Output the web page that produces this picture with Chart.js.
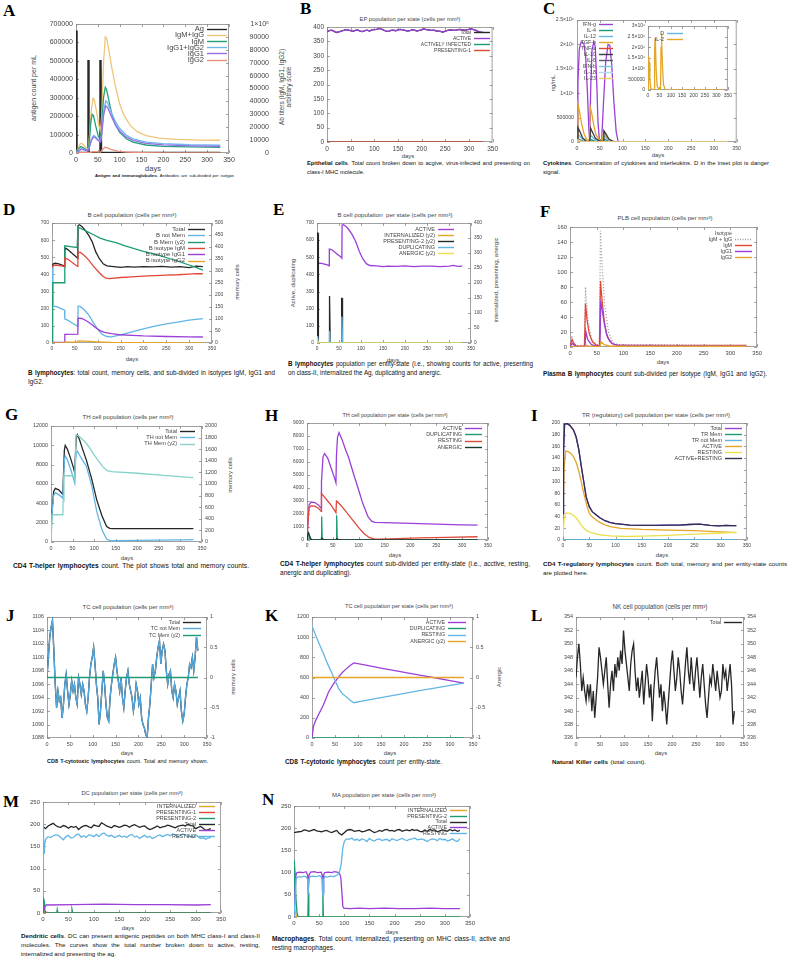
<!DOCTYPE html>
<html>
<head>
<meta charset="utf-8">
<script src="https://cdn.jsdelivr.net/npm/chart.js@4.4.1/dist/chart.umd.min.js"></script>
<style>
  body { margin:0; width:794px; height:960px; position:relative; overflow:hidden; background:#fff;
         font-family:"Liberation Sans", Arial, sans-serif; color:#222; }
  canvas { position:absolute; }
  .lt { position:absolute; font-family:"Liberation Serif", "Times New Roman", serif; font-weight:bold; font-size:17px; line-height:17px; color:#000; }
  .tt { position:absolute; font-size:5.2px; color:#444; white-space:nowrap; transform:translate(-50%,-50%); }
  .ax { position:absolute; font-size:6px; color:#444; white-space:nowrap; transform:translate(-50%,-50%); }
  .ax.r { transform:translate(-50%,-50%) rotate(-90deg); }
  .cp { position:absolute; font-size:5.3px; line-height:9px; color:#111; }
  .cp span { display:block; white-space:nowrap; }
  .cp .j { text-align:justify; text-align-last:justify; }
</style>
</head>
<body>

<!-- panel letters -->
<div class="lt" style="left:3px;top:2px">A</div>
<div class="lt" style="left:300px;top:0px">B</div>
<div class="lt" style="left:543px;top:0px">C</div>
<div class="lt" style="left:3px;top:201px">D</div>
<div class="lt" style="left:273px;top:201px">E</div>
<div class="lt" style="left:540px;top:203px">F</div>
<div class="lt" style="left:5px;top:406px">G</div>
<div class="lt" style="left:265px;top:407px">H</div>
<div class="lt" style="left:531px;top:407px">I</div>
<div class="lt" style="left:6px;top:607px">J</div>
<div class="lt" style="left:265px;top:607px">K</div>
<div class="lt" style="left:531px;top:607px">L</div>
<div class="lt" style="left:3px;top:793px">M</div>
<div class="lt" style="left:262px;top:791px">N</div>

<!-- chart titles (data-w: width they take in the figure) -->
<div class="tt" data-w="101" style="left:410px;top:19px">EP population per state (cells per mm³)</div>
<div class="tt" data-w="89" style="left:132px;top:214px">B cell population (cells per mm³)</div>
<div class="tt" data-w="115" style="left:395px;top:214px">B cell population&nbsp; per state (cells per mm³)</div>
<div class="tt" data-w="95" style="left:665px;top:217px">PLB cell population (cells per mm³)</div>
<div class="tt" data-w="91" style="left:128px;top:416px">TH cell population (cells per mm³)</div>
<div class="tt" data-w="105" style="left:395px;top:415px">TH cell population per state (cells per mm³)</div>
<div class="tt" data-w="148" style="left:656px;top:415px">TR (regulatory) cell population per state (cells per mm³)</div>
<div class="tt" data-w="91" style="left:128px;top:606px">TC cell population (cells per mm³)</div>
<div class="tt" data-w="108" style="left:399px;top:606px">TC cell population per state (cells per mm³)</div>
<div class="tt" data-w="95" style="left:660px;top:606px">NK cell population (cells per mm³)</div>
<div class="tt" data-w="101" style="left:132px;top:793px">DC population per state (cells per mm³)</div>
<div class="tt" data-w="104" style="left:384px;top:795px">MA population per state (cells per mm³)</div>

<!-- axis titles -->
<div class="ax" style="left:153px;top:168px;font-size:7.5px">days</div>
<div class="ax" style="left:408px;top:156px">days</div>
<div class="ax" style="left:658px;top:155px">days</div>
<div class="ax" style="left:132px;top:359px">days</div>
<div class="ax" style="left:393px;top:360px">days</div>
<div class="ax" style="left:663px;top:362px">days</div>
<div class="ax" style="left:127px;top:558px">days</div>
<div class="ax" style="left:395px;top:555px">days</div>
<div class="ax" style="left:662px;top:555px">days</div>
<div class="ax" style="left:127px;top:753px">days</div>
<div class="ax" style="left:390px;top:753px">days</div>
<div class="ax" style="left:661px;top:753px">days</div>
<div class="ax" style="left:128px;top:928px">days</div>
<div class="ax" style="left:392px;top:932px">days</div>

<div class="ax r" style="left:33px;top:88px;font-size:7px">antigen count per mL</div>
<div class="ax r" style="left:281px;top:87px;font-size:6.5px">Ab titers (IgM, IgG1, IgG2)</div>
<div class="ax r" style="left:288px;top:87px;font-size:6.5px">arbitrary scale</div>
<div class="ax r" style="left:553px;top:83px">ng/mL</div>
<div class="ax r" style="left:237px;top:282px">memory cells</div>
<div class="ax r" style="left:293px;top:283px">Active, duplicating</div>
<div class="ax r" style="left:496px;top:280px">internalized, presenting, anergic</div>
<div class="ax r" style="left:230px;top:475px">memory cells</div>
<div class="ax r" style="left:233px;top:677px">memory cells</div>
<div class="ax r" style="left:499px;top:677px">Anergic</div>

<!-- captions -->
<div class="cp" style="left:95px;top:171px;width:140px"><span class="j"><b>Antigen and immunoglobulins</b>. Antibodies are sub-divided per isotype.</span></div>
<div class="cp" style="left:307px;top:159px;width:223px"><span class="j"><b>Epithelial cells</b>. Total count broken down to acgive, virus-infected and presenting on</span><span>class-I MHC molecule.</span></div>
<div class="cp" style="left:543px;top:159px;width:226px"><span class="j"><b>Cytokines</b>. Concentration of cytokines and interleukins. D in the inset plot is danger</span><span>signal.</span></div>
<div class="cp" style="left:28px;top:368px;width:247px"><span class="j"><b>B lymphocytes</b>: total count, memory cells, and sub-divided in isotypes IgM, IgG1 and</span><span>IgG2.</span></div>
<div class="cp" style="left:288px;top:359px;width:245px"><span class="j"><b>B lymphocytes</b> population per entity-state (i.e., showing counts for active, presenting</span><span>on class-II, internalized the Ag, duplicating and anergic.</span></div>
<div class="cp" style="left:543px;top:369px;width:224px"><span class="j"><b>Plasma B lymphocytes</b> count sub-divided per isotype (IgM, IgG1 and IgG2).</span></div>
<div class="cp" style="left:13px;top:561px;width:236px"><span class="j"><b>CD4 T-helper lymphocytes</b> count. The plot shows total and memory counts.</span></div>
<div class="cp" style="left:280px;top:559px;width:250px"><span class="j"><b>CD4 T-helper lymphocytes</b> count sub-divided per entity-state (i.e., acctive, resting,</span><span>anergic and duplicating).</span></div>
<div class="cp" style="left:543px;top:559px;width:244px"><span class="j"><b>CD4 T-regulatory lymphocytes</b> count. Both total, memory and per entity-state counts</span><span>are plotted here.</span></div>
<div class="cp" style="left:47px;top:757px;width:161px"><span class="j"><b>CD8 T-cytotoxic lymphocytes</b> count. Total and memory shown.</span></div>
<div class="cp" style="left:285px;top:757px;width:157px"><span class="j"><b>CD8 T-cytotoxic lymphocytes</b> count per entity-state.</span></div>
<div class="cp" style="left:552px;top:757px;width:94px"><span class="j"><b>Natural Killer cells</b> (total count).</span></div>
<div class="cp" style="left:21px;top:931px;width:239px"><span class="j"><b>Dendritic cells</b>. DC can present antigenic peptides on both MHC class-I and class-II</span><span class="j">molecules. The curves show the total number broken down to active, resting,</span><span>internalized and presenting the ag.</span></div>
<div class="cp" style="left:272px;top:934px;width:238px"><span class="j"><b>Macrophages</b>. Total count, internalized, presenting on MHC class-II, active and</span><span>resting macrophages.</span></div>

<script>
// ---- data: [day, value] pairs ----
// A: antigen (left axis) and antibody titres (right axis)
const aAg = [[0,665000],[1.2,0],[27.5,0],[28,505000],[29.2,0],[55.5,0],[56,505000],[57.2,0],[330,0]];
const aIgMIgG = [[0,0],[4,3000],[9,7000],[13,7600],[18,6000],[24,3600],[28,3000],[31,14000],[35,33000],[39,42500],[42,41000],[47,32000],[52,22000],[56,17000],[59,30000],[63,70000],[67,90000],[70,89000],[75,80000],[82,66000],[90,52000],[100,38000],[110,29000],[125,21000],[140,16500],[160,13500],[190,11500],[230,10500],[280,10000],[330,9900]];
const aIgM = [[0,0],[5,3000],[11,5000],[16,4200],[24,2500],[28,2200],[31,11000],[34,24000],[37,30000],[40,29000],[45,21000],[51,13000],[56,10000],[59,22000],[63,43000],[67,51000],[70,49000],[75,41000],[82,30000],[90,22000],[100,16000],[115,11000],[130,8500],[160,6200],[200,5200],[260,4700],[330,4400]];
const aIgG12 = [[0,0],[6,1500],[12,3300],[18,2800],[27,1800],[30,4000],[35,10500],[40,13500],[44,13000],[50,10500],[56,9000],[59,16000],[63,32000],[68,40500],[72,39000],[80,32000],[90,24500],[100,19000],[115,14000],[130,11000],[160,8500],[200,7200],[260,6400],[330,6000]];
const aIgG1 = [[0,0],[6,1300],[12,3000],[18,2500],[27,1600],[30,3600],[35,9500],[40,12500],[44,12000],[50,9800],[56,8400],[59,14500],[63,29000],[68,36500],[72,35500],[80,29000],[90,22000],[100,17000],[115,12500],[130,9800],[160,7500],[200,6300],[260,5600],[330,5200]];
const aIgG2 = [[0,0],[12,200],[30,300],[40,1000],[56,700],[60,2500],[66,4400],[72,4000],[80,2800],[95,1500],[115,700],[150,300],[200,100],[330,0]];
const aY2Labels = ['0','10000','20000','30000','40000','50000','60000','70000','80000','90000','1×10⁵'];

// B: epithelial cells, one value every 5 days
const bActive = [384,387,389,385,381,383,386,388,391,389,387,385,388,390,386,384,387,389,386,390,
  391,392,395,393,389,386,385,388,389,387,390,392,390,388,386,387,391,389,386,388,
  390,393,391,390,388,389,387,386,385,382,386,388,390,389,388,390,392,391,389,390,
  392,393,391,388,384,382,381];
const bZero = [[0,0],[330,0]];

// C: cytokines
const cIFNg = [[0,0],[2,1200000],[5,1900000],[9,2050000],[15,2020000],[19,1750000],[23,1000000],[26,250000],[28,50000],[30,1100000],[33,1900000],[37,2050000],[40,1950000],[43,1300000],[46,400000],[49,60000],[54,20000],[58,800000],[63,1650000],[68,2000000],[72,1980000],[76,1600000],[81,800000],[86,200000],[90,20000],[95,0],[330,0]];
const cIL4 = [[0,0],[3,60000],[10,30000],[20,5000],[28,0],[31,50000],[40,15000],[50,0],[59,60000],[68,20000],[80,0],[330,0]];
const cIL12 = [[0,0],[2,160000],[6,120000],[12,50000],[20,10000],[28,0],[30,140000],[35,90000],[42,30000],[50,0],[58,130000],[63,90000],[70,30000],[80,0],[330,0]];
const cTGFb = [[0,0],[2,780000],[5,650000],[10,380000],[15,180000],[20,70000],[27,20000],[29,720000],[32,600000],[37,330000],[42,140000],[50,40000],[56,30000],[58,200000],[62,150000],[68,70000],[75,20000],[85,0],[330,0]];
const cIL10 = [[0,0],[2,300000],[6,220000],[12,90000],[20,20000],[28,10000],[30,280000],[34,200000],[40,80000],[50,15000],[57,10000],[59,230000],[63,170000],[70,60000],[80,10000],[90,0],[330,0]];
const cLow = [[0,0],[2,40000],[8,10000],[20,0],[330,0]];
const cD = [[0,0],[330,0]];
const cIL2 = [[0,0],[1,900000],[3,1600000],[5,1300000],[8,500000],[12,100000],[20,0],[27,0],[29,1800000],[31,2420000],[33,2000000],[36,900000],[40,200000],[48,0],[55,0],[57,2000000],[59,2660000],[61,2200000],[64,1000000],[68,250000],[76,0],[330,0]];
const cYLabels = ['0','500000','1×10⁶','1.5×10⁶','2×10⁶','2.5×10⁶'];
const cInsetLabels = ['0','500000','1×10⁶','1.5×10⁶','2×10⁶','2.5×10⁶','3×10⁶'];

// D: B cells (memory on right axis)
const dTotal = [[0,450],[3,462],[7,466],[15,462],[25,452],[27.5,447],[28,555],[33,548],[45,520],[55,498],[56.5,495],[57,685],[60,690],[66,678],[72,660],[80,630],[88,590],[96,530],[104,490],[112,462],[120,450],[135,446],[150,441],[165,445],[180,443],[200,445],[220,444],[240,447],[260,443],[280,446],[300,440],[315,448],[330,445]];
const dNotMem = [[0,450],[2,215],[10,212],[20,200],[27.5,192],[28,140],[33,135],[45,115],[55,100],[56.5,98],[57,215],[62,212],[70,195],[80,165],[90,120],[100,80],[110,50],[120,38],[130,36],[150,48],[175,65],[200,82],[225,98],[250,112],[275,122],[300,133],[315,138],[330,142]];
const dMem = [[0,0],[1,5],[2,251],[27.5,251],[28,405],[40,402],[55,398],[56.5,398],[57,482],[62,478],[75,466],[90,452],[105,437],[120,428],[140,418],[160,405],[180,393],[200,382],[220,372],[240,362],[260,350],[280,338],[300,325],[315,315],[330,304]];
const dIgM = [[0,440],[3,452],[8,455],[20,450],[27.5,445],[28,495],[35,488],[45,468],[55,448],[56.5,447],[57,530],[62,528],[70,512],[80,485],[90,450],[100,420],[110,392],[118,378],[125,376],[150,382],[175,386],[200,390],[225,393],[250,396],[275,398],[300,402],[315,405],[330,404]];
const dIgG1 = [[0,0],[3,4],[27.5,5],[28,50],[56.5,52],[57,145],[65,143],[75,130],[85,112],[95,90],[105,72],[115,62],[130,55],[150,48],[175,44],[200,41],[250,38],[300,36],[330,35]];
const dIgG2 = [[0,0],[27.5,1],[28,5],[56.5,5],[57,12],[75,11],[90,8],[110,5],[130,3],[200,2],[330,1]];

// E: B cells per state
const eActive = [[0,0],[1,300],[2,462],[7,466],[15,462],[25,455],[27.5,450],[28,548],[33,545],[45,520],[55,500],[56.5,495],[57,688],[60,690],[66,680],[72,662],[80,632],[88,592],[96,535],[104,492],[112,463],[120,452],[135,450],[150,446],[160,449],[180,447],[200,450],[220,446],[240,449],[260,448],[280,446],[300,449],[310,453],[320,447],[330,448]];
const eIntern = [[0,0],[1,0],[1.5,23],[3,0],[27.5,0],[28.5,11],[30,0],[55.5,0],[56.5,23],[58,0],[330,0]];
const ePres2 = [[0,0],[1,0],[1.5,366],[2.3,366],[3.2,0],[27.5,0],[28,157],[29,157],[30,0],[55.5,0],[56,149],[57,149],[58,0],[330,0]];
const eDup = [[0,0],[1,0],[1.7,40],[3,0],[27.5,0],[28.5,70],[30,0],[55.5,0],[56.5,155],[58,0],[330,0]];
const eAnergic = [[0,0],[1.5,8],[3,0],[330,0]];

// F: plasma B cells
const fTotal = [[0,0],[3,15],[6,5],[12,2],[27,2],[29,80],[33,40],[40,10],[50,3],[55,2],[57,155],[60,110],[65,55],[72,20],[80,6],[90,3],[330,2]];
const fIgM = [[0,0],[2,6],[4,10],[7,5],[12,1],[27,1],[29,58],[32,35],[36,18],[42,7],[50,2],[55,1],[57,88],[60,62],[64,35],[68,18],[74,8],[82,3],[95,2],[330,2]];
const fIgG1 = [[0,0],[4,5],[8,2],[15,0],[28,0],[29.5,21],[33,10],[40,3],[50,1],[56,0],[57.5,62],[61,45],[65,28],[70,13],[78,5],[90,2],[330,1.5]];
const fIgG2 = [[0,0],[28,0],[30,3],[36,1],[56,0],[58,7],[64,3],[75,1],[330,1]];

// G: TH cells
const gTotal = [[0,1400],[3,3500],[6,5200],[10,5550],[18,5400],[26,5000],[27.5,4950],[29,7000],[31,9500],[33,10000],[38,9600],[45,8700],[52,7700],[55,7150],[57,9500],[59,10900],[61,11100],[66,10600],[74,9500],[82,8470],[94,6590],[106,4360],[118,2710],[129,1610],[136,1420],[145,1380],[200,1380],[260,1380],[330,1380]];
const gNotMem = [[0,1300],[3,3300],[6,4800],[10,5100],[18,4900],[26,4600],[27.5,4500],[29,6500],[31,8500],[33,8900],[38,8500],[45,7600],[52,6600],[55,6100],[57,8500],[59,9200],[61,9400],[66,9000],[74,8400],[82,7860],[94,5900],[106,3160],[118,1270],[129,310],[136,150],[150,130],[200,160],[260,200],[330,250]];
const gMem = [[0,0],[2,0],[3,470],[27.5,470],[28,700],[30,1140],[45,1145],[54,1130],[55,1100],[57,1500],[58,1850],[62,1840],[70,1790],[80,1720],[90,1620],[100,1500],[110,1400],[120,1300],[130,1230],[140,1215],[200,1185],[260,1150],[330,1110]];

// H: TH cells per state
const hActive = [[0,0],[2,1500],[4,2700],[8,2920],[15,2880],[22,2700],[27.5,2430],[28,4500],[31,6400],[34,6650],[40,6300],[47,5500],[53,4800],[56,4400],[57,6500],[59,7900],[62,8260],[68,7700],[75,6900],[80,6400],[90,5100],[99,3960],[108,2800],[118,1790],[125,1450],[131,1360],[150,1330],[200,1280],[250,1220],[300,1170],[330,1140]];
const hDup = [[0,0],[1,400],[2,600],[3,550],[5,100],[8,0],[27.5,0],[28,1800],[28.8,1800],[29.5,0],[56.5,0],[57,1900],[57.8,1900],[58.5,0],[330,0]];
const hResting = [[0,1400],[1,800],[2,1500],[4,2500],[8,2620],[15,2600],[22,2450],[27.5,2200],[28,3580],[32,3400],[40,3000],[48,2600],[56,2100],[57,3000],[60,2900],[70,2450],[80,1950],[90,1450],[100,950],[110,500],[120,200],[130,80],[140,60],[175,110],[220,160],[270,200],[330,250]];
const hAnergic = [[0,0],[1,350],[3,550],[5,300],[8,50],[12,0],[27,0],[28.5,150],[32,30],[38,0],[56,0],[57.5,100],[62,20],[70,0],[330,0]];

// I: TR cells
const iActRest = [[0,45],[1,150],[3,198],[8,199],[13,196],[20,188],[25,176],[30,155],[35,125],[40,97],[44,74],[50,57],[56,48],[63,43],[70,38],[80,33],[89,30],[100,28],[110,27],[127,25.5],[150,25],[175,25],[200,25.5],[221,25.5],[240,26.5],[260,27],[280,25],[297,24],[310,25],[320,24.5],[330,24.5]];
const iActive = [[0,40],[2,120],[5,152],[10,151],[15,148],[20,142],[25,133],[30,118],[35,98],[40,78],[45,60],[50,46],[55,40],[62,35],[70,30],[80,26],[90,23],[110,20],[130,19],[150,18],[200,17],[250,16],[300,14],[330,12.5]];
const iResting = [[0,5],[2,35],[5,46],[10,46],[15,45],[20,42],[25,38],[30,32],[35,25],[40,20],[45,16],[50,14],[60,11],[70,9],[90,7],[120,6],[150,6.5],[200,8],[250,10],[300,12],[330,13]];
const iZero = [[0,0],[330,0]];

// J: TC cells, one value every 3 days
const jNotMem = [1097,1100,1103,1104.5,1105.5,1101,1096,1092.5,1095,1093.5,
  1094,1091,1093,1096,1097.5,1095,1093,1094.5,1096.5,1095,
  1096,1094,1093,1097,1096,1094.5,1096,1095,1093,1092,
  1094,1097,1099,1100,1101.5,1099,1096,1094,1090,1092,
  1095,1098,1096,1093,1091,1090.5,1094,1096,1097.5,1099,
  1100,1098,1096.5,1095,1097,1094,1092.5,1095,1097,1098,
  1096,1095,1094,1092,1093.5,1096,1095,1093,1094,1091,
  1090,1089.5,1088.5,1088,1091,1093,1096,1099,1097,1098,
  1100,1101.5,1102.5,1099,1101,1102,1101,1098,1096,1097.5,
  1098,1095,1094,1096,1095,1093,1094,1095,1092,1090.5,
  1091.5,1094,1096,1097,1099,1098.5,1100,1098,1100,1103,1101];
const jMem = [[0,0],[330,0]];

// K: TC cells per state
const kActive = [[0,0],[3,110],[7,165],[14,230],[25,330],[36,456],[47,539],[58,605],[66,650],[75,688],[83,720],[91,744],[120,720],[150,694],[180,669],[210,644],[240,619],[270,595],[300,570],[330,545]];
const kDup = [[0,0],[330,0]];
const kResting = [[0,1110],[8,1020],[16,930],[25,836],[33,745],[42,654],[50,570],[58,490],[66,440],[75,406],[83,375],[91,350],[120,375],[150,400],[180,425],[210,449],[240,474],[270,498],[300,522],[330,545]];
const kAnergic = [[0,0],[330,0]];

// L: NK cells, one value every 3 days
const lTotal = [345,348,350,347,343,345,343,341.5,344,342,
  344,340,343,339,342,345,349.5,348,346,344,
  346,348,344,340.5,344,346,343,347,345,348,
  346,349,347,352,349,347,345,343,347,349,
  350,346,343,345,342,344,346,341,344,347,
  345,342,344,338.5,343,346,348,345,342,344,
  340,343,341,338,341,344,347,349,346,343,
  345,348,346,343,341,344,347,349.5,346,344,
  348,345,343,346,348,345,342,345,347,344,
  341,339,342,345,344,347,345,343,346,344,
  342,343,347,345,346,343,345,347,344,338,340];

// M: dendritic cells
const mIntern = [[0,2],[3,1],[330,0]];
const mPres1 = [[0,0],[2,3],[10,1],[330,1]];
const mPres2 = [[0,0],[1,32],[2,30],[4,5],[6,0],[27,0],[28,8],[29.5,0],[56,0],[57,8],[58.5,0],[330,0]];
const mTotal = [195,190,196,199,202,197,194,193,197,195,191,195,193,195,188,193,196,197,194,192,
  198,196,195,203,200,196,194,192,197,195,193,195,198,197,193,197,199,196,193,195,
  196,191,188,190,193,196,192,194,195,198,196,194,192,195,197,198,196,200,197,196,
  190,193,195,191,186,188,190];
const mActive = [[0,0],[3,12],[6,18],[60,19],[120,20],[180,19],[240,19],[300,18],[330,19]];
const mRestStart = [[0,200],[1,165],[2,135],[3,150],[4,162]];
const mResting = [166,172,170,174,176,175,170,165,172,175,169,170,176,178,171,174,170,176,175,172,
  177,172,178,180,175,173,175,170,172,175,171,173,170,175,177,171,173,168,172,175,
  170,173,168,170,174,176,172,175,177,174,178,176,172,175,178,175,171,173,170,176,
  172,168,170,166,169,170];

// N: macrophages
const nIntern = [[0,0],[0.5,40],[2,15],[5,0],[330,0]];
const nPres2 = [[0,0],[0.5,128],[2,100],[4,40],[6,10],[8,0],[27.5,0],[28.5,55],[29.5,0],[56.5,0],[57.5,55],[58.5,0],[330,0]];
const nTotal = [190,191,192,193,196,195,193,195,197,194,193,192,194,195,192,190,193,195,188,185,
  190,195,197,196,193,194,195,192,193,195,197,193,190,192,195,193,196,197,194,195,
  193,196,197,193,195,196,194,197,195,196,193,192,196,193,197,195,196,192,194,196,
  195,193,197,194,196,193,195];
const nActive = [[0,0],[2,50],[4,95],[6,100],[12,101],[18,100],[24,102],[27,95],[28,55],[29,55],[30,95],[33,101],[40,102],[47,100],[54,101],[56,95],[57,55],[58,55],[59,95],[61,100],[68,101],[75,100],[80,102],[86,101],[90,99],[93,90],[95,60],[97,25],[99,20],[110,19],[130,20],[150,19],[180,20],[210,19],[240,19],[270,20],[300,19],[330,19]];
const nResting = [[0,0],[2,40],[4,85],[6,89],[10,91],[15,90],[20,92],[25,90],[27,85],[28,50],[29,50],[30,85],[32,91],[38,92],[44,91],[50,93],[54,91],[56,85],[57,50],[58,50],[59,85],[61,91],[66,90],[72,92],[78,91],[84,93],[88,97],[91,104],[94,120],[97,155],[100,170],[104,176],[110,175],[115,178],[120,173],[125,175],[130,172],[135,176],[140,174],[145,170],[150,177],[155,173],[160,171],[165,175],[170,176],[175,172],[180,174],[185,175],[190,171],[195,176],[200,174],[205,172],[210,175],[215,177],[220,174],[225,172],[230,175],[235,176],[240,178],[245,174],[250,175],[255,176],[260,173],[265,170],[270,174],[275,176],[280,175],[285,172],[290,177],[295,174],[300,175],[305,171],[310,173],[315,176],[320,172],[325,170],[330,176]];

// ---- colours ----
const PURPLE = '#9b3fd8', GREEN = '#1c9c76', LBLUE = '#62b5e5', ORANGE = '#e5a526', YELLOW = '#ebdf4e',
      RED = '#e0483a', BLACK = '#262626', NAVY = '#2a3352';

// evenly spaced samples -> [day, value]
const even = (vals, step, start = 0) => vals.map((v, i) => [start + i * step, v]);

// gnuplot-like border with inward ticks, plus a gnuplot-style key (text, then line sample)
const frame = {
  id: 'frame',
  beforeDraw(c, args, opts) {
    if (!opts.fill) return;
    const a = c.chartArea, ctx = c.ctx;
    ctx.save(); ctx.fillStyle = '#fff';
    ctx.fillRect(a.left, a.top, a.right - a.left, a.bottom - a.top);
    ctx.restore();
  },
  beforeDatasetsDraw(c) {
    const { ctx, chartArea: a, scales } = c;
    ctx.save();
    ctx.strokeStyle = '#8a8a8a'; ctx.lineWidth = 0.8;
    ctx.strokeRect(a.left + 0.5, a.top + 0.5, a.right - a.left - 1, a.bottom - a.top - 1);
    const seg = (x1, y1, x2, y2) => { ctx.beginPath(); ctx.moveTo(x1, y1); ctx.lineTo(x2, y2); ctx.stroke(); };
    scales.x.ticks.forEach(t => {
      const px = Math.round(scales.x.getPixelForValue(t.value)) + 0.5;
      seg(px, a.bottom, px, a.bottom - 3); seg(px, a.top, px, a.top + 3);
    });
    scales.y.ticks.forEach(t => {
      const py = Math.round(scales.y.getPixelForValue(t.value)) + 0.5;
      seg(a.left, py, a.left + 3, py);
      if (!scales.y2) seg(a.right, py, a.right - 3, py);
    });
    if (scales.y2) scales.y2.ticks.forEach(t => {
      const py = Math.round(scales.y2.getPixelForValue(t.value)) + 0.5;
      seg(a.right, py, a.right - 3, py);
    });
    ctx.restore();
  },
  afterDraw(c, args, opts) {
    const k = opts.key;
    if (!k) return;
    const ctx = c.ctx;
    ctx.save();
    ctx.font = `${k.font}px "Liberation Sans", Arial, sans-serif`;
    ctx.textAlign = 'right'; ctx.textBaseline = 'middle'; ctx.fillStyle = '#444';
    const rows = (k.head ? [{ label: k.head }] : []).concat(c.data.datasets);
    rows.forEach((ds, i) => {
      const y = k.y + i * k.dy;
      const x1 = k.x - k.sw;
      ctx.fillText(ds.label, x1 - 3, y + 0.3);
      if (!ds.borderColor) return;
      ctx.strokeStyle = ds.borderColor; ctx.lineWidth = 1.4;
      ctx.setLineDash(ds.borderDash && ds.borderDash.length ? [1, 1.5] : []);
      ctx.beginPath(); ctx.moveTo(x1, Math.round(y) + 0.5); ctx.lineTo(k.x, Math.round(y) + 0.5); ctx.stroke();
    });
    ctx.restore();
  }
};

function panel(o) {
  const [l, t, r, b] = o.box;
  const wl = 40, wr = o.y2 ? 40 : 6, pt = 6, pb = o.pb || 12;
  const w = r - l + wl + wr, h = b - t + pt + pb;
  const left = l - wl, top = t - pt;
  const cv = document.createElement('canvas');
  cv.width = w; cv.height = h;
  Object.assign(cv.style, { left: left + 'px', top: top + 'px', width: w + 'px', height: h + 'px' });
  document.body.appendChild(cv);

  const font = { family: '"Liberation Sans", Arial, sans-serif', size: o.font || 5.5 };
  const axis = (a, pos, width) => ({
    position: pos, min: a.min, max: a.max,
    grid: { display: false, drawTicks: false }, border: { display: false },
    ticks: { stepSize: a.step, autoSkip: false, padding: a.pad || 3, crossAlign: a.far ? 'far' : 'near',
             color: '#444', font,
             callback: a.labels ? (v, i) => a.labels[i] : v => v },
    // fixed axis width; a wide label gap must not push the plot top/bottom in
    afterFit: s => { s.width = width; s.paddingTop = Math.min(s.paddingTop, 4); s.paddingBottom = Math.min(s.paddingBottom, 4); }
  });
  const scales = {
    x: { type: 'linear', min: 0, max: 350,
         grid: { display: false, drawTicks: false }, border: { display: false },
         ticks: { stepSize: 50, autoSkip: false, maxRotation: 0, padding: 3, color: '#444', font },
         afterFit: s => { s.height = pb; } },
    y: axis(o.y, 'left', wl)
  };
  if (o.y2) scales.y2 = axis(o.y2, 'right', wr);

  const datasets = o.sets.map((s, i) => ({
    label: s.n,
    data: s.d.map(p => ({ x: p[0], y: p[1] })),
    borderColor: s.c, yAxisID: s.ax || 'y',
    borderWidth: s.w || 1.3, borderDash: s.dash || [],
    order: -i, pointRadius: 0, fill: false, tension: 0
  }));

  // key position is given in page pixels; shift it into this canvas
  const L = o.legend;
  const key = L ? { x: L.x - left, y: L.y - top, dy: L.dy, sw: L.sw, font: L.font, head: L.head } : null;

  new Chart(cv, {
    type: 'line',
    data: { datasets },
    options: {
      responsive: false, animation: false,
      layout: { padding: { top: pt, right: o.y2 ? 0 : wr, left: 0, bottom: 0 } },
      plugins: { legend: { display: false }, tooltip: { enabled: false }, frame: { fill: !!o.fill, key } },
      scales
    },
    plugins: [frame]
  });
}

// ---- panels ----
panel({ box: [76, 24, 229, 153], font: 7,
  y: { min: 0, max: 700000, step: 100000 },
  y2: { min: 0, max: 100000, step: 10000, labels: aY2Labels, far: true, pad: 16 },
  sets: [
    { n: 'Ag', d: aAg, c: BLACK, w: 2.4 },
    { n: 'IgM+IgG', d: aIgMIgG, c: '#efc57a', ax: 'y2' },
    { n: 'IgM', d: aIgM, c: '#22a07a', ax: 'y2' },
    { n: 'IgG1+IgG2', d: aIgG12, c: '#70b8ee', ax: 'y2' },
    { n: 'IgG1', d: aIgG1, c: '#9a6ee6', ax: 'y2' },
    { n: 'IgG2', d: aIgG2, c: '#e9917c', ax: 'y2' }],
  legend: { x: 227, y: 29, dy: 6.1, sw: 20, font: 7.5 } });

panel({ box: [327, 27, 495, 142], font: 6.5,
  y: { min: 0, max: 400, step: 50 },
  sets: [
    { n: 'Total', d: even(bActive, 5), c: BLACK },
    { n: 'ACTIVE', d: even(bActive, 5), c: PURPLE },
    { n: 'ACTIVELY INFECTED', d: bZero, c: GREEN },
    { n: 'PRESENTING-1', d: bZero, c: RED }],
  legend: { x: 490, y: 32, dy: 6, sw: 16, font: 5 } });

panel({ box: [577, 20, 738, 142], font: 5.2,
  y: { min: 0, max: 2500000, step: 500000, labels: cYLabels },
  sets: [
    { n: 'IFN-g', d: cIFNg, c: PURPLE },
    { n: 'IL-4', d: cIL4, c: GREEN },
    { n: 'IL-12', d: cIL12, c: LBLUE },
    { n: 'TGF-b', d: cTGFb, c: ORANGE },
    { n: 'TNF-a', d: cLow, c: RED },
    { n: 'IL-10', d: cIL10, c: '#3a3a3a' },
    { n: 'IL-6', d: cLow, c: '#5a5a7a' },
    { n: 'IFN-b', d: cLow, c: '#7fc6ea' },
    { n: 'IL-18', d: cLow, c: '#a9dcef' },
    { n: 'IL-23', d: cLow, c: '#efc46a' }],
  legend: { x: 613, y: 24, dy: 6, sw: 14, font: 5.3 } });

panel({ box: [648, 26, 729, 90], font: 5, pb: 10, fill: true,
  y: { min: 0, max: 3000000, step: 500000, labels: cInsetLabels },
  sets: [
    { n: 'D', d: cD, c: LBLUE },
    { n: 'IL-2', d: cIL2, c: ORANGE }],
  legend: { x: 683, y: 33, dy: 6, sw: 16, font: 5.3 } });

panel({ box: [52, 223, 212, 343], font: 5,
  y: { min: 0, max: 700, step: 100 },
  y2: { min: 0, max: 500, step: 50 },
  sets: [
    { n: 'Total', d: dTotal, c: BLACK },
    { n: 'B not Mem', d: dNotMem, c: LBLUE },
    { n: 'B Mem (y2)', d: dMem, c: GREEN, ax: 'y2' },
    { n: 'B isotype IgM', d: dIgM, c: RED },
    { n: 'B isotype IgG1', d: dIgG1, c: PURPLE },
    { n: 'B isotype IgG2', d: dIgG2, c: ORANGE }],
  legend: { x: 205, y: 229, dy: 6.3, sw: 17, font: 6 } });

panel({ box: [317, 223, 471, 343], font: 4.8,
  y: { min: 0, max: 700, step: 100 },
  y2: { min: 0, max: 400, step: 50 },
  sets: [
    { n: 'ACTIVE', d: eActive, c: PURPLE },
    { n: 'INTERNALIZED (y2)', d: eIntern, c: ORANGE, ax: 'y2' },
    { n: 'PRESENTING-2 (y2)', d: ePres2, c: BLACK, ax: 'y2' },
    { n: 'DUPLICATING', d: eDup, c: LBLUE },
    { n: 'ANERGIC (y2)', d: eAnergic, c: YELLOW, ax: 'y2' }],
  legend: { x: 454, y: 229, dy: 6.1, sw: 16, font: 5.5 } });

panel({ box: [570, 227, 759, 347], font: 5.8,
  y: { min: 0, max: 160, step: 20 },
  sets: [
    { n: 'IgM + IgG', d: fTotal, c: '#9a9a9a', dash: [1, 2] },
    { n: 'IgM', d: fIgM, c: RED },
    { n: 'IgG1', d: fIgG1, c: PURPLE },
    { n: 'IgG2', d: fIgG2, c: ORANGE }],
  legend: { x: 752, y: 233, dy: 6, sw: 17, font: 5.3, head: 'Isotype' } });

panel({ box: [51, 426, 202, 542], font: 5.4,
  y: { min: 0, max: 12000, step: 2000 },
  y2: { min: 0, max: 2000, step: 200 },
  sets: [
    { n: 'Total', d: gTotal, c: BLACK },
    { n: 'TH not Mem', d: gNotMem, c: LBLUE },
    { n: 'TH Mem (y2)', d: gMem, c: '#86d2c8', ax: 'y2' }],
  legend: { x: 195, y: 431, dy: 6.3, sw: 15, font: 5.6 } });

panel({ box: [307, 423, 489, 540], font: 4.9,
  y: { min: 0, max: 9000, step: 1000 },
  sets: [
    { n: 'ACTIVE', d: hActive, c: PURPLE },
    { n: 'DUPLICATING', d: hDup, c: GREEN },
    { n: 'RESTING', d: hResting, c: RED },
    { n: 'ANERGIC', d: hAnergic, c: '#1f3a30' }],
  legend: { x: 482, y: 428, dy: 6.3, sw: 17, font: 5.4 } });

panel({ box: [563, 423, 748, 540], font: 5,
  y: { min: 0, max: 200, step: 20 },
  sets: [
    { n: 'Total', d: iActRest, c: PURPLE },
    { n: 'TR Mem', d: iZero, c: GREEN },
    { n: 'TR not Mem', d: iZero, c: LBLUE },
    { n: 'ACTIVE', d: iActive, c: ORANGE },
    { n: 'RESTING', d: iResting, c: YELLOW },
    { n: 'ACTIVE+RESTING', d: iActRest, c: NAVY }],
  legend: { x: 742, y: 428, dy: 6, sw: 17, font: 5.5 } });

panel({ box: [47, 617, 207, 738], font: 5.4,
  y: { min: 1088, max: 1106, step: 2 },
  y2: { min: -1, max: 1, step: 0.5 },
  sets: [
    { n: 'Total', d: even(jNotMem, 3), c: BLACK },
    { n: 'TC not Mem', d: even(jNotMem, 3), c: '#52a7dc' },
    { n: 'TC Mem (y2)', d: jMem, c: GREEN, ax: 'y2' }],
  legend: { x: 201, y: 622, dy: 6.4, sw: 18, font: 5.3 } });

panel({ box: [312, 617, 473, 738], font: 5.4,
  y: { min: 0, max: 1200, step: 200 },
  y2: { min: -1, max: 1, step: 0.5 },
  sets: [
    { n: 'ACTIVE', d: kActive, c: PURPLE },
    { n: 'DUPLICATING', d: kDup, c: GREEN },
    { n: 'RESTING', d: kResting, c: LBLUE },
    { n: 'ANERGIC (y2)', d: kAnergic, c: ORANGE, ax: 'y2' }],
  legend: { x: 466, y: 622, dy: 6.3, sw: 18, font: 5.3 } });

panel({ box: [576, 617, 744, 738], font: 5.4,
  y: { min: 336, max: 354, step: 2 },
  y2: { min: 336, max: 354, step: 2 },
  sets: [{ n: 'Total', d: even(lTotal, 3), c: BLACK }],
  legend: { x: 742, y: 622, dy: 6.4, sw: 18, font: 5.3 } });

panel({ box: [43, 802, 223, 913], font: 6,
  y: { min: 0, max: 250, step: 50 },
  sets: [
    { n: 'INTERNALIZED', d: mIntern, c: ORANGE },
    { n: 'PRESENTING-1', d: mPres1, c: RED },
    { n: 'PRESENTING-2', d: mPres2, c: GREEN },
    { n: 'Total', d: even(mTotal, 5), c: BLACK },
    { n: 'ACTIVE', d: mActive, c: PURPLE },
    { n: 'RESTING', d: mRestStart.concat(even(mResting, 5, 5)), c: LBLUE }],
  legend: { x: 215, y: 806, dy: 6, sw: 16, font: 5.4 } });

panel({ box: [294, 806, 472, 917], font: 6,
  y: { min: 0, max: 250, step: 50 },
  sets: [
    { n: 'INTERNALIZED', d: nIntern, c: ORANGE },
    { n: 'PRESENTING-2', d: nPres2, c: GREEN },
    { n: 'Total', d: even(nTotal, 5), c: BLACK },
    { n: 'ACTIVE', d: nActive, c: PURPLE },
    { n: 'RESTING', d: nResting, c: LBLUE }],
  legend: { x: 467, y: 810, dy: 5.8, sw: 17, font: 5.4 } });

// ---- size titles and captions to the widths they take in the figure ----
document.querySelectorAll('.tt').forEach(el => {
  const fs = parseFloat(getComputedStyle(el).fontSize);
  el.style.fontSize = (fs * (+el.dataset.w) / el.getBoundingClientRect().width) + 'px';
});
document.querySelectorAll('.cp').forEach(cp => {
  const first = cp.querySelector('.j');
  const target = parseFloat(cp.style.width);
  first.style.display = 'inline-block';
  first.style.textAlignLast = 'auto';
  const natural = first.getBoundingClientRect().width;
  const fs = parseFloat(getComputedStyle(cp).fontSize);
  cp.style.fontSize = (fs * target / natural * 0.97) + 'px';
  first.style.display = '';
  first.style.textAlignLast = '';
});
</script>
</body>
</html>
